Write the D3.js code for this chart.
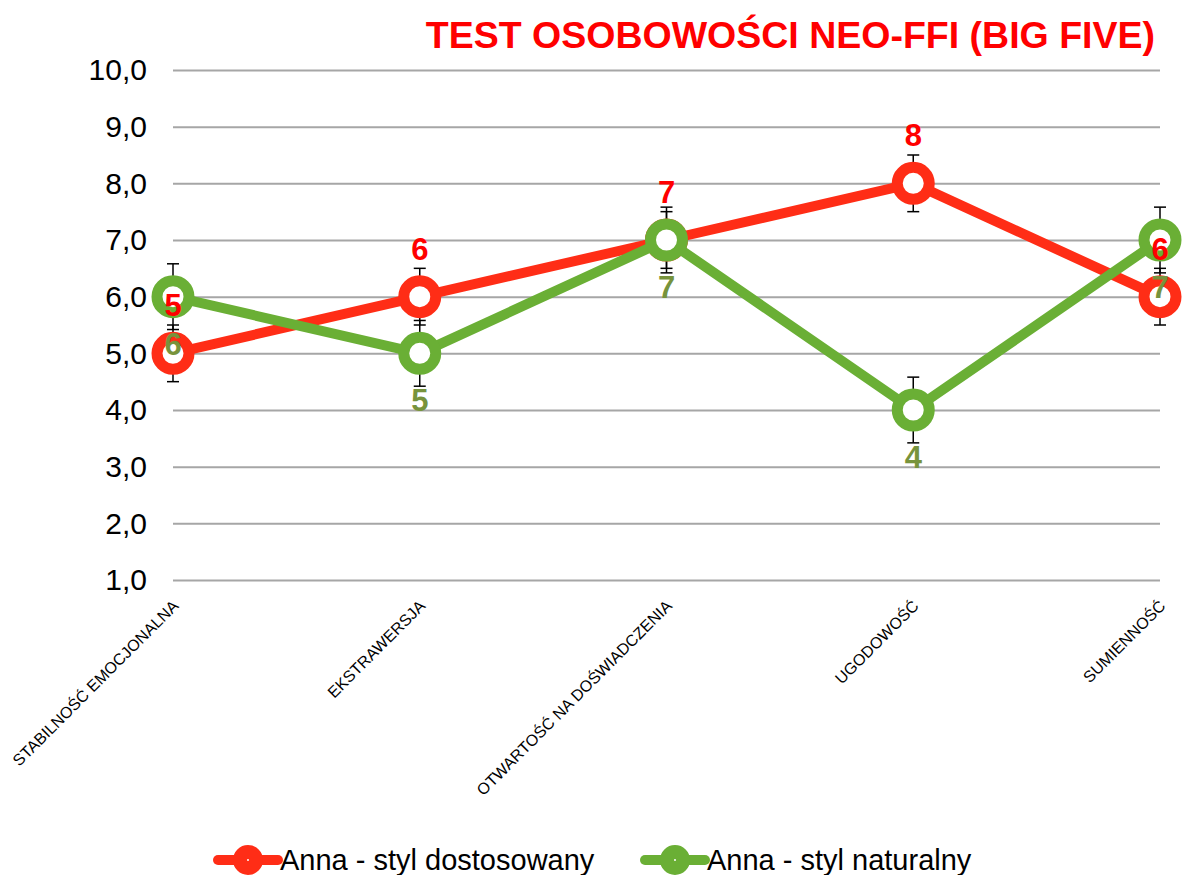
<!DOCTYPE html>
<html><head><meta charset="utf-8">
<script src="https://cdn.jsdelivr.net/npm/d3@7"></script>
<style>body{margin:0;background:#fff}svg{font-family:"Liberation Sans",Arial,sans-serif}</style>
</head><body><svg id="c" width="1182" height="875"></svg>
<script>
const categories = ["STABILNOŚĆ EMOCJONALNA","EKSTRAWERSJA","OTWARTOŚĆ NA DOŚWIADCZENIA","UGODOWOŚĆ","SUMIENNOŚĆ"];
const seriesNames = ["Anna - styl dostosowany","Anna - styl naturalny"];
const dostosowany = [5,6,7,8,6];
const naturalny = [6,5,7,4,7];
const errDostosowany = 0.5;
const errNaturalny = 0.58;
const yTicks = [1,2,3,4,5,6,7,8,9,10];
const title = "TEST OSOBOWOŚCI NEO-FFI (BIG FIVE)";

const svg = d3.select("#c");
const x = d3.scalePoint().domain(categories).range([173,1160]);
const y = d3.scaleLinear().domain([1,10]).range([580,70]);
const fmt = v => d3.format(".1f")(v).replace(".",",");

svg.append("text").attr("x",1155).attr("y",48).attr("text-anchor","end")
  .attr("font-size",37.5).attr("font-weight","bold").attr("fill","#ff0000").text(title);

// grid
const yAxis = d3.axisLeft(y).tickValues(yTicks).tickFormat(fmt).tickSize(-(1160-173)).tickPadding(26);
const ga = svg.append("g").attr("transform","translate(173,0)").call(yAxis);
ga.select(".domain").remove();
ga.selectAll(".tick line").attr("stroke","#a6a6a6").attr("stroke-width",2);
ga.selectAll(".tick text").attr("font-size",30).attr("fill","#000").attr("dy","0.33em")
  .attr("font-family","Liberation Sans, Arial, sans-serif");

// x labels
const xAxis = d3.axisBottom(x).tickSize(0).tickPadding(0);
const gx = svg.append("g").attr("transform","translate(0,600)").call(xAxis);
gx.select(".domain").remove();
gx.selectAll(".tick text").attr("font-size",16).attr("fill","#000")
  .attr("font-family","Liberation Sans, Arial, sans-serif")
  .attr("text-anchor","end").attr("dy","0.35em")
  .attr("transform","translate(2,3) rotate(-45)");

const series = [
  {name:seriesNames[0], vals:dostosowany, err:errDostosowany, color:"#ff2d16", label:"#ff0000", off:-48},
  {name:seriesNames[1], vals:naturalny, err:errNaturalny, color:"#6aaf35", label:"#77933c", off:47}
];

// error bars
series.forEach(s=>{
  const g = svg.append("g").attr("stroke","#000").attr("stroke-width",1.5);
  s.vals.forEach((v,i)=>{
    const cx = x(categories[i]);
    g.append("line").attr("x1",cx).attr("x2",cx).attr("y1",y(v-s.err)).attr("y2",y(v+s.err));
    [v-s.err,v+s.err].forEach(e=>g.append("line").attr("x1",cx-6).attr("x2",cx+6).attr("y1",y(e)).attr("y2",y(e)));
  });
});

const line = d3.line().x((d,i)=>x(categories[i])).y(d=>y(d));
series.forEach(s=>{
  svg.append("path").datum(s.vals).attr("d",line).attr("fill","none")
    .attr("stroke",s.color).attr("stroke-width",10).attr("stroke-linejoin","round");
  svg.append("g").selectAll("circle").data(s.vals).join("circle")
    .attr("cx",(d,i)=>x(categories[i])).attr("cy",d=>y(d)).attr("r",16)
    .attr("fill","#fff").attr("stroke",s.color).attr("stroke-width",11);
});

series.forEach(s=>{
  svg.append("g").selectAll("text").data(s.vals).join("text")
    .attr("x",(d,i)=>x(categories[i])).attr("y",d=>y(d)+s.off).attr("dy","0.36em")
    .attr("text-anchor","middle").attr("font-size",31).attr("font-weight","bold")
    .attr("fill",s.label).text(d=>d);
});

// legend
const leg = [{x:218, s:series[0]},{x:645, s:series[1]}];
leg.forEach(l=>{
  const g = svg.append("g");
  g.append("line").attr("x1",l.x).attr("x2",l.x+60).attr("y1",860).attr("y2",860)
    .attr("stroke",l.s.color).attr("stroke-width",10).attr("stroke-linecap","round");
  g.append("circle").attr("cx",l.x+30).attr("cy",860).attr("r",8).attr("fill","#fff")
    .attr("stroke",l.s.color).attr("stroke-width",14);
  g.append("text").attr("x",l.x+62).attr("y",860).attr("dy","0.35em").attr("font-size",29)
    .attr("fill","#000").text(l.s.name);
});
</script></body></html>
